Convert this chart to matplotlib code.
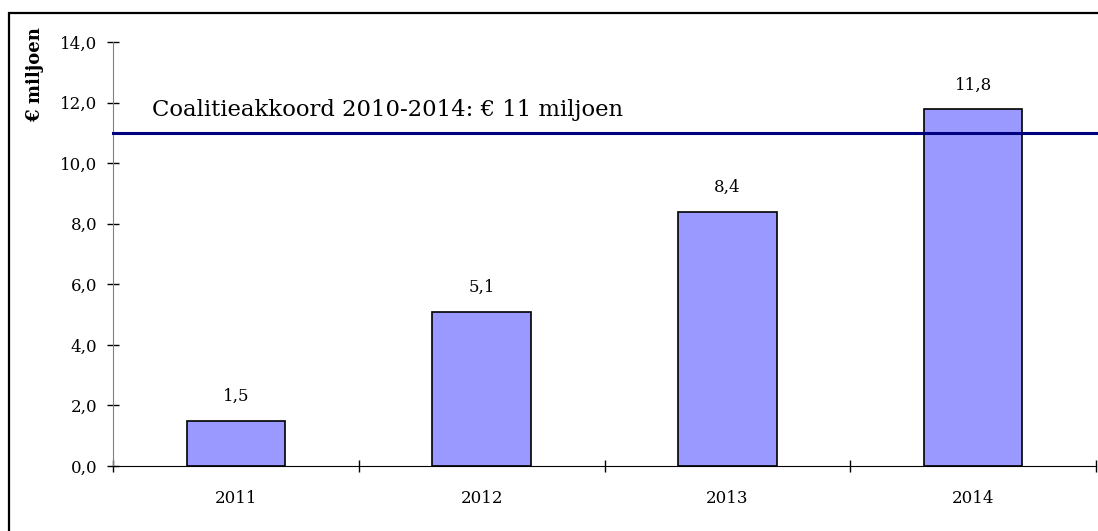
import numpy as np
import matplotlib
matplotlib.use("Agg")
import matplotlib.pyplot as plt
from matplotlib.patches import Rectangle

years = ['2011', '2012', '2013', '2014']
values = [1.5, 5.1, 8.4, 11.8]
target = 11.0
target_label = 'Coalitieakkoord 2010-2014: € 11 miljoen'

plt.rcParams['font.family'] = ['DejaVu Serif']

fig = plt.figure(figsize=(10.98, 5.31), dpi=100)
ax = fig.add_axes([113 / 1098, 65 / 531, 983 / 1098, 424 / 531])

# figuurrand
fig.patches.append(Rectangle((9 / 1098, -0.1), 1.2, 1 - 13 / 531 + 0.1,
                             transform=fig.transFigure, fill=False,
                             edgecolor='black', linewidth=1.6))

x = np.arange(len(years))
ax.bar(x, values, width=0.4, color='#9999FF', edgecolor='black', linewidth=1.2, zorder=2)
for xi, v in zip(x, values):
    ax.annotate(f'{v:.1f}'.replace('.', ','), (xi, v), xytext=(0, 11),
                textcoords='offset points', ha='center', va='bottom', fontsize=12)

ax.axhline(target, color='#000080', linewidth=2.2, zorder=3, clip_on=False)
ax.text(-0.34, target + 0.4, target_label, fontsize=16.4, va='bottom', ha='left')

ax.set_xlim(-0.5, 3.5)
ax.set_ylim(0, 14)
ax.set_yticks(np.arange(0, 15, 2))
ax.set_yticklabels([f'{t:.1f}'.replace('.', ',') for t in np.arange(0, 15, 2)], fontsize=12)
ax.set_xticks(np.arange(-0.5, 4, 1.0))
ax.set_xticklabels([])
ax.set_xticks(x, minor=True)
ax.set_xticklabels(years, minor=True, fontsize=12)
ax.tick_params(axis='x', which='minor', length=0, pad=17)
ax.tick_params(axis='both', which='major', direction='inout', length=9, width=1)
ax.tick_params(axis='y', pad=7)

for s in ['top', 'right']:
    ax.spines[s].set_visible(False)
ax.spines['left'].set_color('#808080')
ax.spines['bottom'].set_color('black')

fig.text(35 / 1098, 1 - 75 / 531, '€ miljoen', rotation=90, fontsize=13,
         fontweight='bold', ha='center', va='center')

plt.savefig('out.png', dpi=100)
